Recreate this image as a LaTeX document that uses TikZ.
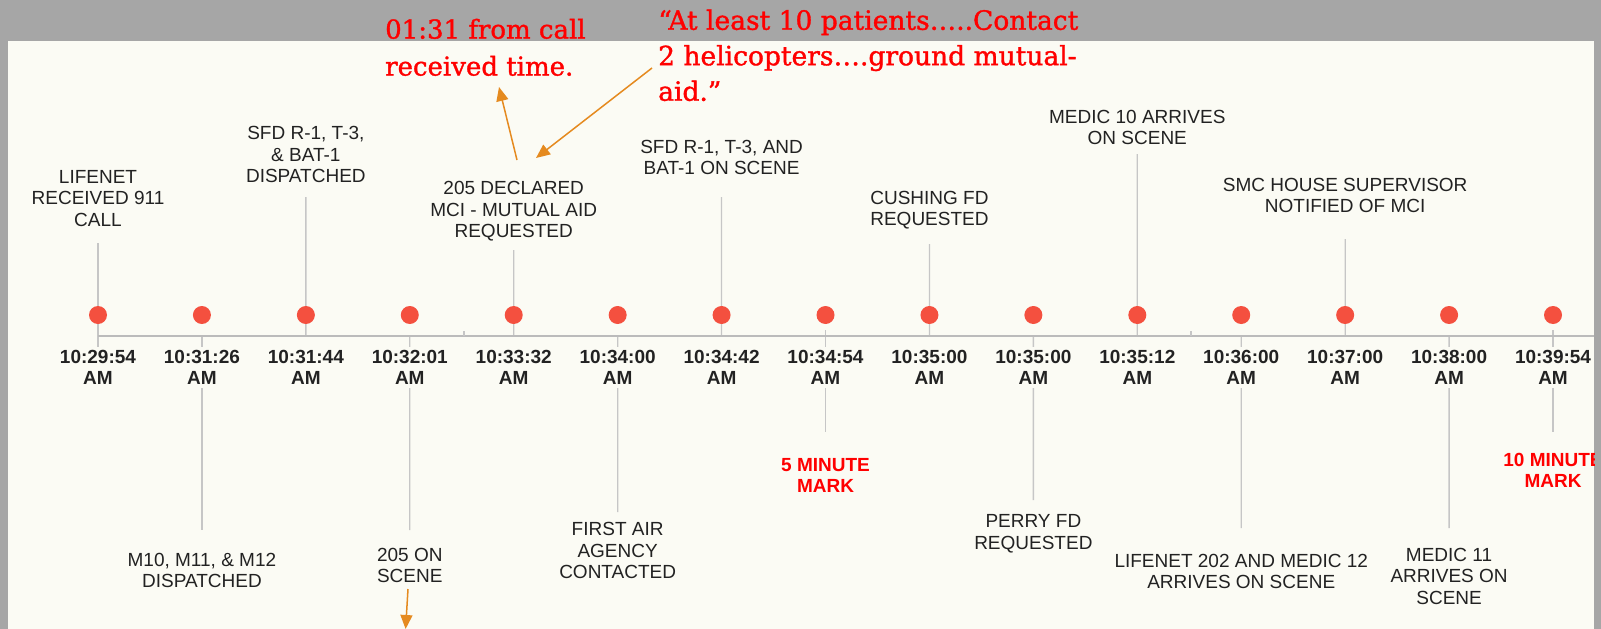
\documentclass[tikz,border=0pt]{standalone}
\usepackage{fontspec}
\newfontfamily\labfont{Liberation Sans}
\newfontfamily\notefont[FakeBold=1.3]{DejaVu Serif}
\usetikzlibrary{arrows.meta}
\definecolor{bggray}{HTML}{A6A6A6}
\definecolor{panel}{HTML}{FBFBF4}
\definecolor{dotred}{HTML}{F4503F}
\definecolor{stemgray}{HTML}{C6C6C6}
\definecolor{axisgray}{HTML}{BBBBBB}
\definecolor{txt}{HTML}{222222}
\definecolor{markred}{HTML}{FF0000}
\definecolor{notered}{HTML}{FF0000}
\definecolor{arrorange}{HTML}{E58A1F}
\tikzset{
  evlabel/.style={font=\labfont\fontsize{19}{21.5}\selectfont, text=txt, align=center, inner sep=0pt},
  marklabel/.style={font=\labfont\bfseries\fontsize{19}{21}\selectfont, text=markred, align=center, inner sep=0pt},
  timelabel/.style={font=\labfont\bfseries\fontsize{19}{21}\selectfont, text=txt, align=center, fill=panel, inner xsep=1pt, inner ysep=3pt},
  eventdot/.style={circle, fill=dotred, minimum size=18pt, inner sep=0pt},
  stemline/.style={draw=stemgray, line width=1.3pt},
  axisline/.style={draw=axisgray, line width=1.6pt},
  notetext/.style={font=\notefont\fontsize{26}{37}\selectfont, text=notered, align=left, inner sep=0pt, anchor=north west},
  notearrow/.style={draw=arrorange, line width=1.5pt, -{Triangle[length=14pt,width=12pt]}},
}
\begin{document}
\begin{tikzpicture}[x=1pt,y=-1pt]
\useasboundingbox (0,0) rectangle (1601,629);
\fill[bggray] (0,0) rectangle (1601,629);
\fill[panel] (8,41) rectangle (1594,629);
\begin{scope}
\clip (8,41) rectangle (1594,629);
% axis points
\foreach \i in {0,...,14}{
  \coordinate (ax\i) at ({98+103.93*\i},336);
}
\coordinate (axend) at (1594,336);
% stem ends
\coordinate (s0) at (98,243);       \coordinate (e0) at (98,349);
\coordinate (s2) at (305.86,197);
\coordinate (s4) at (513.72,250);
\coordinate (s6) at (721.58,197);
\coordinate (s8) at (929.44,244);
\coordinate (s10) at (1137.3,154);
\coordinate (s12) at (1345.16,239);
\coordinate (s1) at (201.93,530);
\coordinate (s3) at (409.79,530);
\coordinate (s5) at (617.65,512);
\coordinate (s7) at (825.51,432);   \coordinate (m7) at (825.51,330);
\coordinate (s9) at (1033.37,500);
\coordinate (s11) at (1241.23,528);
\coordinate (s13) at (1449.09,528);
\coordinate (s14) at (1553.02,432); \coordinate (m14) at (1553.02,330);
% stems
\draw[stemline] (s0) -- (e0);
\foreach \i in {2,4,6,8,10,12}{ \draw[stemline] (s\i) -- (ax\i); }
\foreach \i in {1,3,5,9,11,13}{ \draw[stemline] (ax\i) -- (s\i); }
\draw[stemline] (m7) -- (s7);
\draw[stemline] (m14) -- (s14);
% axis
\draw[axisline] (ax0) -- (axend);
\coordinate (tk1) at (464,336); \coordinate (tk1t) at (464,331);
\coordinate (tk2) at (1191,336); \coordinate (tk2t) at (1191,331);
\draw[stemline] (tk1) -- (tk1t);
\draw[stemline] (tk2) -- (tk2t);
% dots and times
\foreach \t [count=\i from 0] in {10:29:54,10:31:26,10:31:44,10:32:01,10:33:32,10:34:00,10:34:42,10:34:54,10:35:00,10:35:00,10:35:12,10:36:00,10:37:00,10:38:00,10:39:54}{
  \node[eventdot] (dot\i) at ({98+103.93*\i},315) {};
  \node[timelabel] (time\i) at ({98+103.93*\i},367.5) {\t\\AM};
}
% top labels
\node[evlabel] (lab0) at (98,198.5) {LIFENET\\RECEIVED 911\\CALL};
\node[evlabel] (lab2) at (305.86,154.5) {SFD R-1, T-3,\\\& BAT-1\\DISPATCHED};
\node[evlabel] (lab4) at (513.72,211.5) {205 DECLARED\\MCI - MUTUAL AID\\REQUESTED};
\node[evlabel] (lab6) at (721.58,157.5) {SFD R-1, T-3, AND\\BAT-1 ON SCENE};
\node[evlabel] (lab8) at (929.44,210) {CUSHING FD\\REQUESTED};
\node[evlabel] (lab10) at (1137.3,127.5) {MEDIC 10 ARRIVES\\ON SCENE};
\node[evlabel] (lab12) at (1345.16,195.5) {SMC HOUSE SUPERVISOR\\NOTIFIED OF MCI};
% bottom labels
\node[evlabel] (lab1) at (201.93,570.5) {M10, M11, \& M12\\DISPATCHED};
\node[evlabel] (lab3) at (409.79,565.5) {205 ON\\SCENE};
\node[evlabel] (lab5) at (617.65,550.5) {FIRST AIR\\AGENCY\\CONTACTED};
\node[marklabel] (lab7) at (825.51,475) {5 MINUTE\\MARK};
\node[evlabel] (lab9) at (1033.37,534) {PERRY FD\\REQUESTED};
\node[evlabel] (lab11) at (1241.23,571.5) {LIFENET 202 AND MEDIC 12\\ARRIVES ON SCENE};
\node[evlabel] (lab13) at (1449.09,576) {MEDIC 11\\ARRIVES ON\\SCENE};
\node[marklabel] (lab14) at (1553.02,470.5) {10 MINUTE\\MARK};
\end{scope}
% notes
\node[notetext] (note1) at (385,18.6) {01:31 from call\\received time.};
\node[notetext, font=\notefont\fontsize{26.5}{35.5}\selectfont] (note2) at (658,9.4) {“At least 10 patients…..Contact\\2 helicopters….ground mutual-\\aid.”};
\coordinate (a1s) at (517,160); \coordinate (a1e) at (499,87);
\coordinate (a2s) at (652,68);  \coordinate (a2e) at (536,158);
\coordinate (a3s) at (408,589); \coordinate (a3e) at (405.6,629);
\draw[notearrow] (a1s) -- (a1e);
\draw[notearrow] (a2s) -- (a2e);
\draw[notearrow] (a3s) -- (a3e);
\end{tikzpicture}
\end{document}
